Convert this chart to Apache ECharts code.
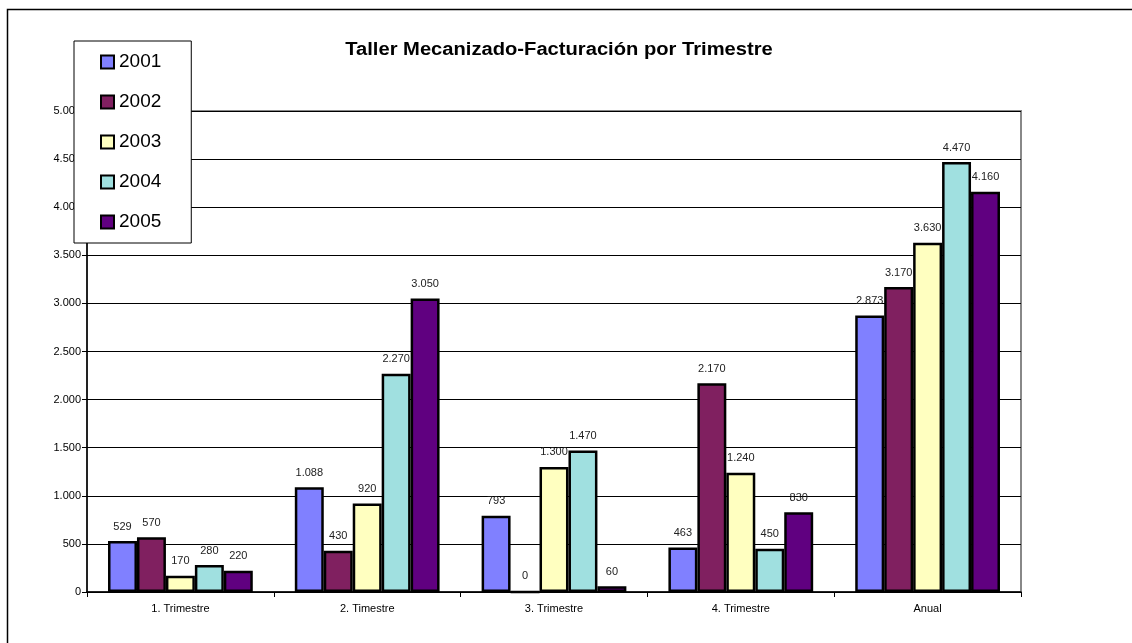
<!DOCTYPE html>
<html>
<head>
<meta charset="utf-8">
<script src="https://cdn.jsdelivr.net/npm/echarts@6/dist/echarts.min.js"></script>
<style>
  html, body { margin: 0; padding: 0; background: #fff; }
  #chart { width: 1132px; height: 643px; }
</style>
</head>
<body>
<div id="chart"></div>
<script>
// datos
const categories = ['1. Trimestre', '2. Timestre', '3. Trimestre', '4. Trimestre', 'Anual'];
const years = ['2001', '2002', '2003', '2004', '2005'];
const v2001 = [529, 1088, 793, 463, 2873];
const v2002 = [570, 430, 0, 2170, 3170];
const v2003 = [170, 920, 1300, 1240, 3630];
const v2004 = [280, 2270, 1470, 450, 4470];
const v2005 = [220, 3050, 60, 830, 4160];
const yearColors = ['#8080FF', '#802060', '#FFFFC0', '#A0E0E0', '#600080'];
const chartTitle = 'Taller Mecanizado-Facturación por Trimestre';

const seriesValues = [v2001, v2002, v2003, v2004, v2005];

// 1234 -> "1.234"
const fmt = (n) => String(n).replace(/\B(?=(\d{3})+(?!\d))/g, '.');

const font = 'Arial, "Liberation Sans", sans-serif';

const chart = echarts.init(document.getElementById('chart'));

const option = {
  animation: false,
  graphic: [
    {
      type: 'rect',
      shape: { x: 7.5, y: 9.5, width: 1300, height: 800 },
      style: { fill: 'none', stroke: '#000', lineWidth: 1.5 },
      silent: true
    },
    {
      // título algo más ancho, como en Excel
      type: 'text',
      x: 559,
      y: 50,
      scaleX: 1.12,
      style: {
        text: chartTitle,
        font: 'bold 18px ' + font,
        fill: '#000',
        align: 'center',
        verticalAlign: 'middle'
      },
      silent: true
    }
  ],
  legend: {
    orient: 'vertical',
    left: 74,
    top: 41,
    padding: [11, 30, 11, 26],
    itemGap: 20,
    itemWidth: 13,
    itemHeight: 13,
    icon: 'rect',
    backgroundColor: '#fff',
    borderColor: '#000',
    borderWidth: 1,
    textStyle: { fontFamily: font, fontSize: 19, color: '#000', lineHeight: 20 },
    data: years
  },
  grid: { left: 87, right: 111, top: 111, bottom: 51, show: true, borderColor: '#888', borderWidth: 2 },
  xAxis: {
    type: 'category',
    data: categories,
    axisLine: { lineStyle: { color: '#000', width: 1.5 } },
    axisTick: { show: true, length: 5, lineStyle: { color: '#000' } },
    axisLabel: { fontFamily: font, fontSize: 11, color: '#000', margin: 11 }
  },
  yAxis: {
    type: 'value',
    min: 0,
    max: 5000,
    interval: 500,
    axisLine: { show: true, lineStyle: { color: '#000', width: 1.5 } },
    axisTick: { show: true, length: 5, lineStyle: { color: '#000' } },
    axisLabel: { fontFamily: font, fontSize: 11, color: '#000', margin: 6, formatter: fmt },
    splitLine: { lineStyle: { color: '#000', width: 1 } }
  },
  series: years.map((y, i) => ({
    name: y,
    type: 'bar',
    data: seriesValues[i],
    barGap: '0%',
    barCategoryGap: '22.5%',
    itemStyle: { color: yearColors[i], borderColor: '#000', borderWidth: 2.5 },
    label: {
      show: true,
      position: 'top',
      distance: 9,
      fontFamily: font,
      fontSize: 11,
      color: '#222',
      formatter: (p) => fmt(p.value)
    }
  }))
};

chart.setOption(option);
</script>
</body>
</html>
